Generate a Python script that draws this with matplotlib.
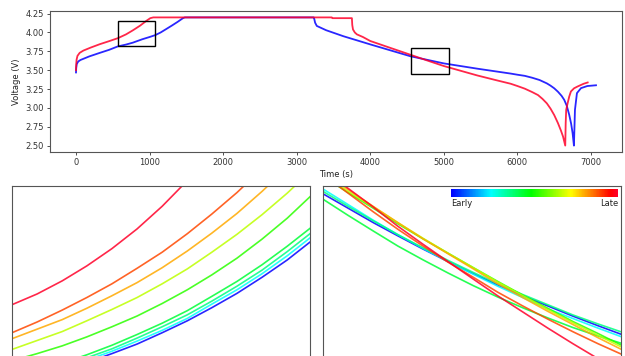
import numpy as np
import matplotlib
matplotlib.use("Agg")
import matplotlib.pyplot as plt
from matplotlib.colors import ListedColormap
from matplotlib.patches import Rectangle

# ---------------- data ----------------
# full cycle, late (red) and early (blue)
late_t = [0, 3, 8, 20, 50, 100, 200, 324, 450, 570, 680, 775, 870, 960, 1010, 1050,
          3477, 3485, 3750, 3755, 3765, 3790, 3818, 3900, 4000, 4200, 4545, 4800, 5000,
          5200, 5455, 5700, 5909, 6000, 6100, 6200, 6280, 6340, 6400, 6450, 6500, 6550,
          6591, 6620, 6650, 6656, 6663, 6682, 6704, 6727, 6770, 6818, 6900, 6955]
late_v = [3.50, 3.58, 3.64, 3.69, 3.73, 3.76, 3.80, 3.845, 3.885, 3.925, 3.975, 4.03, 4.09,
          4.157, 4.19, 4.20,
          4.20, 4.19, 4.19, 4.10, 4.04, 4.00, 3.975, 3.94, 3.887, 3.82, 3.705, 3.62, 3.555,
          3.50, 3.43, 3.37, 3.32, 3.29, 3.255, 3.21, 3.17, 3.12, 3.06, 2.99, 2.905, 2.80,
          2.70, 2.62, 2.50, 2.80, 2.975, 3.06, 3.15, 3.218, 3.26, 3.284, 3.32, 3.337]

early_t = [0, 3, 10, 30, 60, 181, 318, 450, 567, 680, 772, 900, 1000, 1077, 1150, 1227,
           1300, 1380, 1454, 1480, 3230, 3236, 3250, 3273, 3400, 3636, 4000, 4545, 5000,
           5455, 5909, 6000, 6100, 6200, 6300, 6400, 6450, 6500, 6550, 6600, 6636, 6670,
           6704, 6730, 6750, 6768, 6782, 6809, 6864, 6950, 7068]
early_v = [3.47, 3.53, 3.58, 3.615, 3.635, 3.683, 3.728, 3.77, 3.815, 3.84, 3.865, 3.91,
           3.94, 3.965, 4.00, 4.046, 4.09, 4.14, 4.19, 4.20, 4.20, 4.19, 4.13, 4.087, 4.03,
           3.95, 3.842, 3.685, 3.59, 3.52, 3.455, 3.44, 3.425, 3.40, 3.37, 3.325, 3.295,
           3.26, 3.215, 3.16, 3.107, 3.03, 2.908, 2.79, 2.665, 2.50, 2.974, 3.196, 3.262,
           3.29, 3.30]

# zoom windows (t0, t1, v0, v1)
win_charge = (570, 1080, 3.815, 4.157)
win_discharge = (4555, 5065, 3.45, 3.79)

# cycle position of each zoomed curve (0 = early, 1 = late)
cycle_pos = [0.0, 0.24, 0.36, 0.43, 0.52, 0.66, 0.80, 0.89, 1.0]

charge_time = [570, 613, 656, 698, 741, 784, 827, 870, 912, 955, 998, 1041, 1080]
charge_v = [
    [3.824, 3.835, 3.847, 3.861, 3.876, 3.892, 3.911, 3.931, 3.953, 3.977, 4.004, 4.033, 4.063],
    [3.827, 3.839, 3.851, 3.865, 3.880, 3.897, 3.915, 3.935, 3.959, 3.983, 4.010, 4.040, 4.070],
    [3.830, 3.842, 3.855, 3.869, 3.884, 3.902, 3.921, 3.941, 3.964, 3.989, 4.016, 4.047, 4.077],
    [3.834, 3.847, 3.860, 3.874, 3.890, 3.908, 3.927, 3.948, 3.972, 3.997, 4.025, 4.056, 4.086],
    [3.864, 3.876, 3.889, 3.904, 3.921, 3.939, 3.960, 3.983, 4.008, 4.036, 4.068, 4.103, 4.139],
    [3.883, 3.898, 3.913, 3.931, 3.950, 3.970, 3.993, 4.018, 4.046, 4.076, 4.109, 4.145, 4.181],
    [3.901, 3.917, 3.933, 3.952, 3.973, 3.995, 4.020, 4.048, 4.078, 4.111, 4.148, 4.188],
    [3.911, 3.929, 3.949, 3.970, 3.993, 4.019, 4.046, 4.077, 4.110, 4.146, 4.186],
    [3.958, 3.976, 3.998, 4.023, 4.052, 4.085, 4.123, 4.166, 4.216],
]

discharge_time = [4555, 4598, 4641, 4683, 4726, 4769, 4812, 4854, 4897, 4940, 4983, 5026, 5065]
discharge_v = [
    [3.777, 3.753, 3.729, 3.707, 3.685, 3.664, 3.644, 3.625, 3.607, 3.590, 3.573, 3.557, 3.543],
    [3.785, 3.759, 3.733, 3.709, 3.686, 3.664, 3.643, 3.623, 3.604, 3.585, 3.569, 3.553, 3.539],
    [3.781, 3.756, 3.732, 3.709, 3.687, 3.666, 3.646, 3.627, 3.609, 3.592, 3.575, 3.560, 3.547],
    [3.768, 3.741, 3.715, 3.690, 3.667, 3.645, 3.624, 3.605, 3.587, 3.570, 3.554, 3.540, 3.528],
    [3.806, 3.779, 3.753, 3.727, 3.702, 3.678, 3.654, 3.631, 3.608, 3.586, 3.564, 3.544, 3.525],
    [3.809, 3.781, 3.755, 3.729, 3.703, 3.678, 3.654, 3.630, 3.607, 3.584, 3.562, 3.541, 3.522],
    [3.813, 3.784, 3.756, 3.729, 3.702, 3.677, 3.652, 3.627, 3.604, 3.581, 3.559, 3.537, 3.518],
    [3.809, 3.778, 3.747, 3.718, 3.690, 3.663, 3.638, 3.613, 3.590, 3.568, 3.547, 3.527, 3.510],
    [3.819, 3.786, 3.755, 3.723, 3.693, 3.664, 3.635, 3.607, 3.580, 3.553, 3.527, 3.502, 3.480],
]

yticks = [2.50, 2.75, 3.00, 3.25, 3.50, 3.75, 4.00, 4.25]
xticks = [0, 1000, 2000, 3000, 4000, 5000, 6000, 7000]

# ---------------- style ----------------
base = plt.get_cmap("gist_rainbow")


def cyc_color(c):
    return base(0.77 * (1 - c))


cb_cmap = ListedColormap([cyc_color(c) for c in np.linspace(0, 1, 256)])
ALPHA = 0.85
SPINE = "#555555"
plt.rcParams["font.family"] = ["DejaVu Sans"]
plt.rcParams["font.size"] = 6

W, H = 625, 356
fig = plt.figure(figsize=(W / 100, H / 100), dpi=100)


def fx(px):
    return px / W


def fy(py):
    return 1 - py / H


# top axes
ax = fig.add_axes([fx(50), fy(152), fx(622) - fx(50), fy(11) - fy(152)])
ax.plot(early_t, early_v, color=cyc_color(0.0), alpha=ALPHA, lw=1.3)
ax.plot(late_t, late_v, color=cyc_color(1.0), alpha=ALPHA, lw=1.3)
for (t0, t1, v0, v1) in (win_charge, win_discharge):
    ax.add_patch(Rectangle((t0, v0), t1 - t0, v1 - v0, fill=False,
                           edgecolor="black", lw=1.0, zorder=5))
ax.set_yticks(yticks)
ax.set_yticklabels([f"{v:.2f}" for v in yticks])
ax.set_xticks(xticks)
ax.set_xlabel("Time (s)", fontsize=6, labelpad=2, color="#222222")
ax.set_ylabel("Voltage (V)", fontsize=6, labelpad=3, color="#222222")
ax.tick_params(labelsize=6, length=2.5, width=0.6, pad=2, colors="#333333")
for s in ax.spines.values():
    s.set_color(SPINE)
    s.set_linewidth(0.8)

# bottom axes (extend below the figure edge)
top_b = 186
h_b = 204
for (left_px, win, tt, vs) in ((12, win_charge, charge_time, charge_v),
                               (323, win_discharge, discharge_time, discharge_v)):
    b = fig.add_axes([fx(left_px), fy(top_b + h_b), fx(298), h_b / H])
    for c, v in zip(cycle_pos, vs):
        b.plot(tt[:len(v)], v, color=cyc_color(c), alpha=ALPHA, lw=1.2)
    b.set_xlim(win[0], win[1])
    b.set_ylim(win[2], win[3])
    b.set_xticks([])
    b.set_yticks([])
    for s in b.spines.values():
        s.set_color(SPINE)
        s.set_linewidth(0.8)

# colour bar
cax = fig.add_axes([fx(451), fy(197), fx(618) - fx(451), fy(189) - fy(197)])
cax.imshow(np.linspace(0, 1, 256)[None, :], aspect="auto", cmap=cb_cmap)
cax.set_axis_off()
fig.text(fx(451), fy(199), "Early", ha="left", va="top", fontsize=6, color="#222222")
fig.text(fx(618), fy(199), "Late", ha="right", va="top", fontsize=6, color="#222222")

fig.savefig("out.png", dpi=100)
